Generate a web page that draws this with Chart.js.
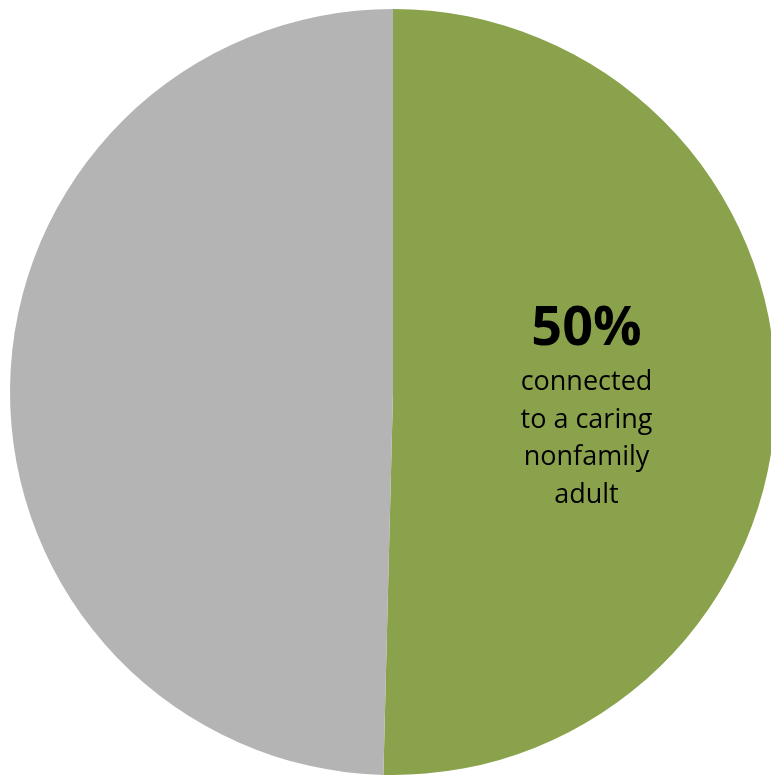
<!DOCTYPE html>
<html>
<head>
<meta charset="utf-8">
<script src="https://cdn.jsdelivr.net/npm/chart.js@4"></script>
<style>
  html, body { margin: 0; padding: 0; background: #fff; overflow: hidden; }
  #wrap { position: relative; width: 786px; height: 779px; }
</style>
</head>
<body>
<div id="wrap"><canvas id="chartPie"></canvas></div>
<script>
/* =========================
   DATA
========================= */

const categories = ["Connected to a caring nonfamily adult", "Not connected"];
const values = [50.4, 49.6];
const colors = ["#8ba24c", "#b4b4b4"];

const bigLabel = "50%";
const smallLines = ["connected", "to a caring", "nonfamily", "adult"];

/* =========================
   LABEL PLUGIN
========================= */

const sliceLabel = {
  id: "sliceLabel",
  afterDatasetsDraw(chart) {
    const arc = chart.getDatasetMeta(0).data[0];
    if (!arc) return;
    const pos = arc.tooltipPosition();
    const ctx = chart.ctx;
    const cx = pos.x + 2;
    const cy = chart.chartArea.top + (chart.chartArea.bottom - chart.chartArea.top) / 2;

    ctx.save();
    ctx.fillStyle = "#000";
    ctx.textAlign = "center";
    ctx.textBaseline = "alphabetic";

    ctx.font = "bold 54px 'Open Sans', sans-serif";
    ctx.fillText(bigLabel, cx, cy - 47);

    ctx.font = "27px 'Open Sans', sans-serif";
    smallLines.forEach((line, i) => {
      ctx.fillText(line, cx, cy - 2 + i * 37.7);
    });
    ctx.restore();
  }
};

/* =========================
   CHART
========================= */

new Chart(document.getElementById("chartPie"), {
  type: "pie",
  data: {
    labels: categories,
    datasets: [
      {
        data: values,
        backgroundColor: colors,
        borderWidth: 0
      }
    ]
  },
  options: {
    responsive: true,
    maintainAspectRatio: false,
    animation: false,
    radius: 383,
    layout: { padding: { top: 5 } },
    plugins: {
      legend: { display: false },
      tooltip: { enabled: false }
    }
  },
  plugins: [sliceLabel]
});
</script>
</body>
</html>
